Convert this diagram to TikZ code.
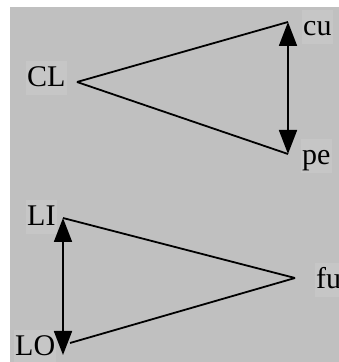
\documentclass[tikz,border=0pt]{standalone}
\usepackage{fontspec}
\setmainfont{Liberation Serif}
\usepackage{tikz}
\usetikzlibrary{arrows.meta,backgrounds,calc}
\definecolor{panel}{HTML}{C0C0C0}
\definecolor{tagbox}{HTML}{C6C6C6}
\tikzset{
  tag/.style={fill=tagbox,inner sep=1pt,text height=25pt,text depth=7pt,anchor=base west,font=\fontsize{30}{32}\selectfont},
  edge/.style={line width=1.8pt},
  twoway/.style={line width=1.8pt,{Triangle[length=24pt,width=18pt]}-{Triangle[length=24pt,width=18pt]}}
}
\begin{document}
\begin{tikzpicture}[x=1pt,y=1pt]
\useasboundingbox (0,0) rectangle (339,362);
\fill[panel] (10,0) rectangle (339,355);
% upper triangle
\coordinate (cl) at (77,280);
\coordinate (cu) at (288,340);
\coordinate (pe) at (288,208);
\node[tag] (CLtag) at (26,275) {CL};
\node[tag] (cutag) at (302,326) {cu};
\node[tag] (petag) at (301,197) {pe};
\draw[edge] (cl) -- (cu);
\draw[edge] (cl) -- (pe);
\draw[twoway] (cu) -- (pe);
% lower triangle
\coordinate (li) at (63,144);
\coordinate (lotip) at (63,7);
\coordinate (lo) at (70,19);
\coordinate (fu) at (295,84);
\node[tag] (LItag) at (26,136) {LI};
\node[tag] (LOtag) at (14,6) {LO};
\node[tag] (futag) at (315,73) {fu};
\draw[edge] (li) -- (fu);
\draw[edge] (lo) -- (fu);
\draw[twoway] (li) -- (lotip);
\end{tikzpicture}
\end{document}
